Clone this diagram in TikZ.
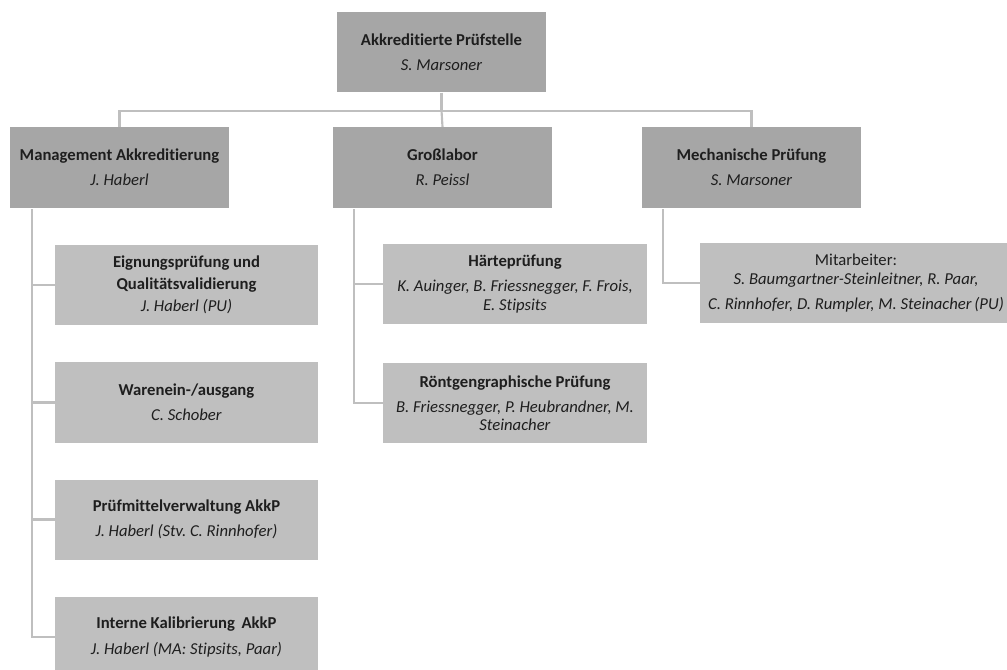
\documentclass[tikz,border=0pt]{standalone}
\usepackage{fontspec}
\setmainfont[Ligatures={NoCommon}]{Carlito}
\usetikzlibrary{calc}
\frenchspacing
\definecolor{headfill}{HTML}{A6A6A6}
\definecolor{subfill}{HTML}{BFBFBF}
\definecolor{linegray}{HTML}{BFBFBF}
\definecolor{txt}{HTML}{1E1E1E}
\tikzset{
  box/.style={rectangle, inner sep=0pt, align=center, text=txt,
    font=\fontsize{12.5pt}{13.8pt}\selectfont\frenchspacing},
  headbox/.style={box, fill=headfill, minimum width=164.25pt, minimum height=60.5pt},
  subbox/.style={box, fill=subfill, minimum width=197.5pt, minimum height=60pt},
  conn/.style={draw=linegray, line width=1.6pt},
}
\begin{document}
\begin{tikzpicture}[x=0.75pt,y=-0.75pt]
\useasboundingbox (0,0) rectangle (1007,670);
% top
\node[headbox, minimum width=156.75pt] (top) at (441.5,52) {\textbf{Akkreditierte Prüfstelle}\\[5pt]\textit{S. Marsoner}};
% level 1
\node[headbox] (mgmt) at (119.5,167.5) {\textbf{Management Akkreditierung}\\[5pt]\textit{J. Haberl}};
\node[headbox] (gross) at (442.5,167.5) {\textbf{Großlabor}\\[5pt]\textit{R. Peissl}};
\node[headbox] (mech) at (751.5,167.5) {\textbf{Mechanische Prüfung}\\[5pt]\textit{S. Marsoner}};
% left children
\node[subbox] (eig) at (186.5,285) {\textbf{Eignungsprüfung und}\\[2pt]\textbf{Qualitätsvalidierung}\\[3pt]\textit{J. Haberl (PU)}};
\node[subbox] (ware) at (186.5,402.5) {\textbf{Warenein-/ausgang}\\[5pt]\textit{C. Schober}};
\node[subbox] (pruefm) at (186.5,519.5) {\textbf{Prüfmittelverwaltung AkkP}\\[5pt]\textit{J. Haberl (Stv. C. Rinnhofer)}};
\node[subbox] (kal) at (186.5,637) {\textbf{Interne Kalibrierung\, AkkP}\\[5pt]\textit{J. Haberl (MA: Stipsits, Paar)}};
% middle children
\node[subbox, minimum width=198pt] (haerte) at (515,284) {\textbf{Härteprüfung}\\[5pt]\textit{K. Auinger, B. Friessnegger, F. Frois,}\\\textit{E. Stipsits}};
\node[subbox, minimum width=198pt] (roent) at (515,403) {\textbf{Röntgengraphische Prüfung}\\[5pt]\textit{B. Friessnegger, P. Heubrandner, M.}\\\textit{Steinacher}};
% right child
\node[subbox, minimum width=234pt] (mitarb) at (856,283) {Mitarbeiter:\\\textit{S. Baumgartner-Steinleitner, R. Paar,}\\[5pt]\textit{C. Rinnhofer, D. Rumpler, M. Steinacher\,(PU)}};
% connectors level 0 -> 1
\coordinate (bus) at ($(top.south)+(0,18)$);
\draw[conn] (top.south) -- (bus);
\draw[conn] (bus) -| (mgmt.north);
\draw[conn] (bus) -| (mech.north);
\draw[conn] (bus) -- (gross.north);
% left children
\coordinate (ls) at ($(mgmt.south west)+(22,1)$);
\draw[conn] (ls) |- (kal.west);
\draw[conn] (ls) |- (eig.west);
\draw[conn] (ls) |- (ware.west);
\draw[conn] (ls) |- (pruefm.west);
% middle children
\coordinate (ms) at ($(gross.south west)+(21,1)$);
\draw[conn] (ms) |- (roent.west);
\draw[conn] (ms) |- (haerte.west);
% right child
\coordinate (rs) at ($(mech.south west)+(21,1)$);
\draw[conn] (rs) |- (mitarb.west);
\end{tikzpicture}
\end{document}
